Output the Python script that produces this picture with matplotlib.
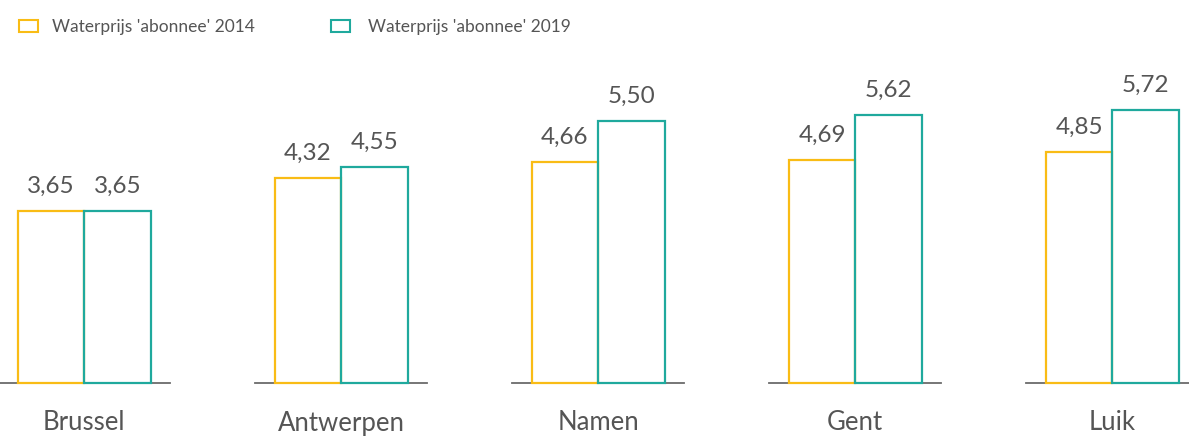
import matplotlib
matplotlib.use("Agg")
import matplotlib.pyplot as plt
from matplotlib.patches import Rectangle

categories = ["Brussel", "Antwerpen", "Namen", "Gent", "Luik"]
prijs_2014 = [3.65, 4.32, 4.66, 4.69, 4.85]
prijs_2019 = [3.65, 4.55, 5.50, 5.62, 5.72]
series_labels = ["Waterprijs 'abonnee' 2014", "Waterprijs 'abonnee' 2019"]

YELLOW = "#F9BC15"
TEAL = "#1FA99D"
TEXT = "#555555"
AXIS = "#6b6b6b"

plt.rcParams['font.family'] = ['Lato', 'DejaVu Sans']

W, H, DPI = 1189, 437, 100
fig = plt.figure(figsize=(W / DPI, H / DPI), dpi=DPI)
ax = fig.add_axes([0, 0, 1, 1])

px_per_unit_x = 257.1
x0_px = 84
ax.set_xlim(-x0_px / px_per_unit_x, (W - x0_px) / px_per_unit_x)
zero_px = 389
px_per_unit_y = 48.8
ax.set_ylim(-(H - zero_px) / px_per_unit_y, zero_px / px_per_unit_y)
ax.axis("off")

base = 0.12
bw = 66.5 / px_per_unit_x
half_seg = 86 / px_per_unit_x

for i, cat in enumerate(categories):
    for j, (vals, col) in enumerate([(prijs_2014, YELLOW), (prijs_2019, TEAL)]):
        v = vals[i]
        xc = i + (j - 0.5) * bw
        ax.bar(xc, v - base, bottom=base, width=bw, facecolor="none",
               edgecolor=col, linewidth=1.6, zorder=3)
        ax.annotate(f"{v:.2f}".replace(".", ","), (xc, v), xytext=(0, 14),
                    textcoords="offset pixels", ha="center", va="bottom",
                    fontsize=17.5, color=TEXT)
    ax.plot([i - half_seg, i + half_seg], [base, base], color=AXIS, lw=1.3, zorder=2)
    ax.text(i, -(423 - zero_px) / px_per_unit_y, cat, ha="center", va="center",
            fontsize=18.5, color=TEXT)

# legend
for (lx, tx), lab, col in zip([(19, 52), (331, 368)], series_labels, [YELLOW, TEAL]):
    fig.patches.append(Rectangle((lx / W, 1 - 32 / H), 19 / W, 12 / H,
                                 transform=fig.transFigure, facecolor="none",
                                 edgecolor=col, linewidth=1.5))
    fig.text(tx / W, 1 - 27 / H, lab, ha="left", va="center", fontsize=12.5, color=TEXT)

fig.savefig("out.png", dpi=DPI)
